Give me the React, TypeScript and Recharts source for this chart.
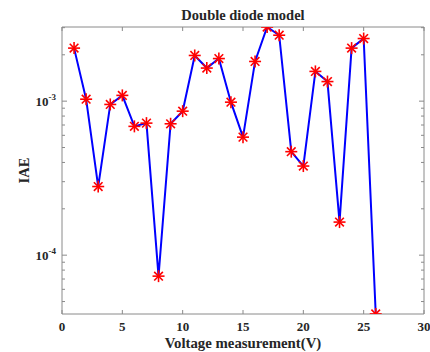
import { ComposedChart, Line, XAxis, YAxis } from "recharts";

// voltage measurement index and IAE of the double diode model
const measurementNo = [
  1, 2, 3, 4, 5, 6, 7, 8, 9, 10, 11, 12, 13, 14, 15, 16, 17, 18, 19, 20, 21, 22, 23, 24, 25, 26,
];
const iaeValues = [
  2.21e-3, 1.03e-3, 2.79e-4, 9.52e-4, 1.09e-3, 6.86e-4, 7.2e-4, 7.31e-5, 7.13e-4, 8.61e-4,
  1.98e-3, 1.64e-3, 1.89e-3, 9.85e-4, 5.84e-4, 1.81e-3, 3.03e-3, 2.68e-3, 4.7e-4, 3.79e-4,
  1.56e-3, 1.34e-3, 1.64e-4, 2.21e-3, 2.55e-3, 4.15e-5,
];
const xTicks = [0, 5, 10, 15, 20, 25, 30];
const yTicks = [
  5e-5, 6e-5, 7e-5, 8e-5, 9e-5, 1e-4, 2e-4, 3e-4, 4e-4, 5e-4, 6e-4, 7e-4, 8e-4, 9e-4, 1e-3,
  2e-3, 3e-3,
];
const yDomain = [4.15e-5, 3.03e-3];

const data = measurementNo.map((n, i) => ({ n, iae: iaeValues[i] }));

const FONT = "Liberation Serif, Times New Roman, serif";
const AXIS = "#8a8a8a";
const TEXT = "#262626";

// plot box edges
const LEFT = 62;
const RIGHT = 424;
const TOP = 27;
const BOTTOM = 314;

const isDecade = (v: number) => {
  const l = Math.log10(v);
  return Math.abs(l - Math.round(l)) < 1e-6;
};

const BottomTick = ({ x, payload }: any) => (
  <g>
    <line x1={x} x2={x} y1={BOTTOM} y2={BOTTOM - 4} stroke={AXIS} />
    <text x={x} y={BOTTOM + 17} textAnchor="middle" fontFamily={FONT} fontWeight="bold" fontSize={13} fill={TEXT}>
      {payload.value}
    </text>
  </g>
);

const TopTick = ({ x }: any) => <line x1={x} x2={x} y1={TOP} y2={TOP + 4} stroke={AXIS} />;

const LeftTick = ({ y, payload }: any) => {
  const major = isDecade(payload.value);
  return (
    <g>
      <line x1={LEFT} x2={LEFT + (major ? 5 : 3)} y1={y} y2={y} stroke={AXIS} />
      {major && (
        <text x={LEFT - 6} y={y + 5} textAnchor="end" fontFamily={FONT} fontWeight="bold" fontSize={13} fill={TEXT}>
          10
          <tspan dy={-6} fontSize={9}>
            {Math.round(Math.log10(payload.value))}
          </tspan>
        </text>
      )}
    </g>
  );
};

const RightTick = ({ y, payload }: any) => {
  const major = isDecade(payload.value);
  return <line x1={RIGHT} x2={RIGHT - (major ? 5 : 3)} y1={y} y2={y} stroke={AXIS} />;
};

const StarDot = ({ cx, cy, index }: any) => {
  const r = 6;
  const d = r * 0.72;
  return (
    <g key={`star-${index}`} stroke="#ff0000" strokeWidth={1.6}>
      <line x1={cx - r} x2={cx + r} y1={cy} y2={cy} />
      <line x1={cx} x2={cx} y1={cy - r} y2={cy + r} />
      <line x1={cx - d} x2={cx + d} y1={cy - d} y2={cy + d} />
      <line x1={cx - d} x2={cx + d} y1={cy + d} y2={cy - d} />
    </g>
  );
};

const TitleLabel = ({ viewBox }: any) => (
  <text
    x={viewBox.x + viewBox.width / 2}
    y={viewBox.y - 6}
    textAnchor="middle"
    fontFamily={FONT}
    fontWeight="bold"
    fontSize={14.5}
    fill={TEXT}
  >
    Double diode model
  </text>
);

const YLabel = ({ viewBox }: any) => {
  const cx = 24;
  const cy = viewBox.y + viewBox.height / 2;
  return (
    <text
      x={cx}
      y={cy}
      transform={`rotate(-90 ${cx} ${cy})`}
      textAnchor="middle"
      dominantBaseline="central"
      fontFamily={FONT}
      fontWeight="bold"
      fontSize={14.5}
      fill={TEXT}
    >
      IAE
    </text>
  );
};

export default function App() {
  return (
    <div style={{ position: "absolute", left: 0, top: 0, background: "#fff" }}>
      <ComposedChart width={430} height={352} data={data} margin={{ top: 26, right: 5, bottom: 0, left: 0 }}>
        <XAxis
          xAxisId="bottom"
          dataKey="n"
          type="number"
          domain={[0, 30]}
          ticks={xTicks}
          interval={0}
          height={38}
          tickLine={false}
          tick={<BottomTick />}
          axisLine={{ stroke: AXIS }}
          label={{
            value: "Voltage measurement(V)",
            position: "insideBottom",
            offset: 4,
            fontFamily: FONT,
            fontWeight: "bold",
            fontSize: 14.8,
            fill: TEXT,
          }}
        />
        <XAxis
          xAxisId="top"
          orientation="top"
          dataKey="n"
          type="number"
          domain={[0, 30]}
          ticks={xTicks}
          interval={0}
          height={1}
          tickLine={false}
          tick={<TopTick />}
          axisLine={{ stroke: AXIS }}
          label={<TitleLabel />}
        />
        <YAxis
          yAxisId="left"
          type="number"
          scale="log"
          domain={yDomain}
          allowDataOverflow
          ticks={yTicks}
          interval={0}
          width={62}
          tickLine={false}
          tick={<LeftTick />}
          axisLine={{ stroke: AXIS }}
          label={<YLabel />}
        />
        <YAxis
          yAxisId="right"
          orientation="right"
          type="number"
          scale="log"
          domain={yDomain}
          allowDataOverflow
          ticks={yTicks}
          interval={0}
          width={1}
          tickLine={false}
          tick={<RightTick />}
          axisLine={{ stroke: AXIS }}
        />
        <Line
          xAxisId="bottom"
          yAxisId="left"
          type="linear"
          dataKey="iae"
          stroke="#0000ff"
          strokeWidth={2}
          dot={<StarDot />}
          activeDot={false}
          isAnimationActive={false}
        />
      </ComposedChart>
    </div>
  );
}
